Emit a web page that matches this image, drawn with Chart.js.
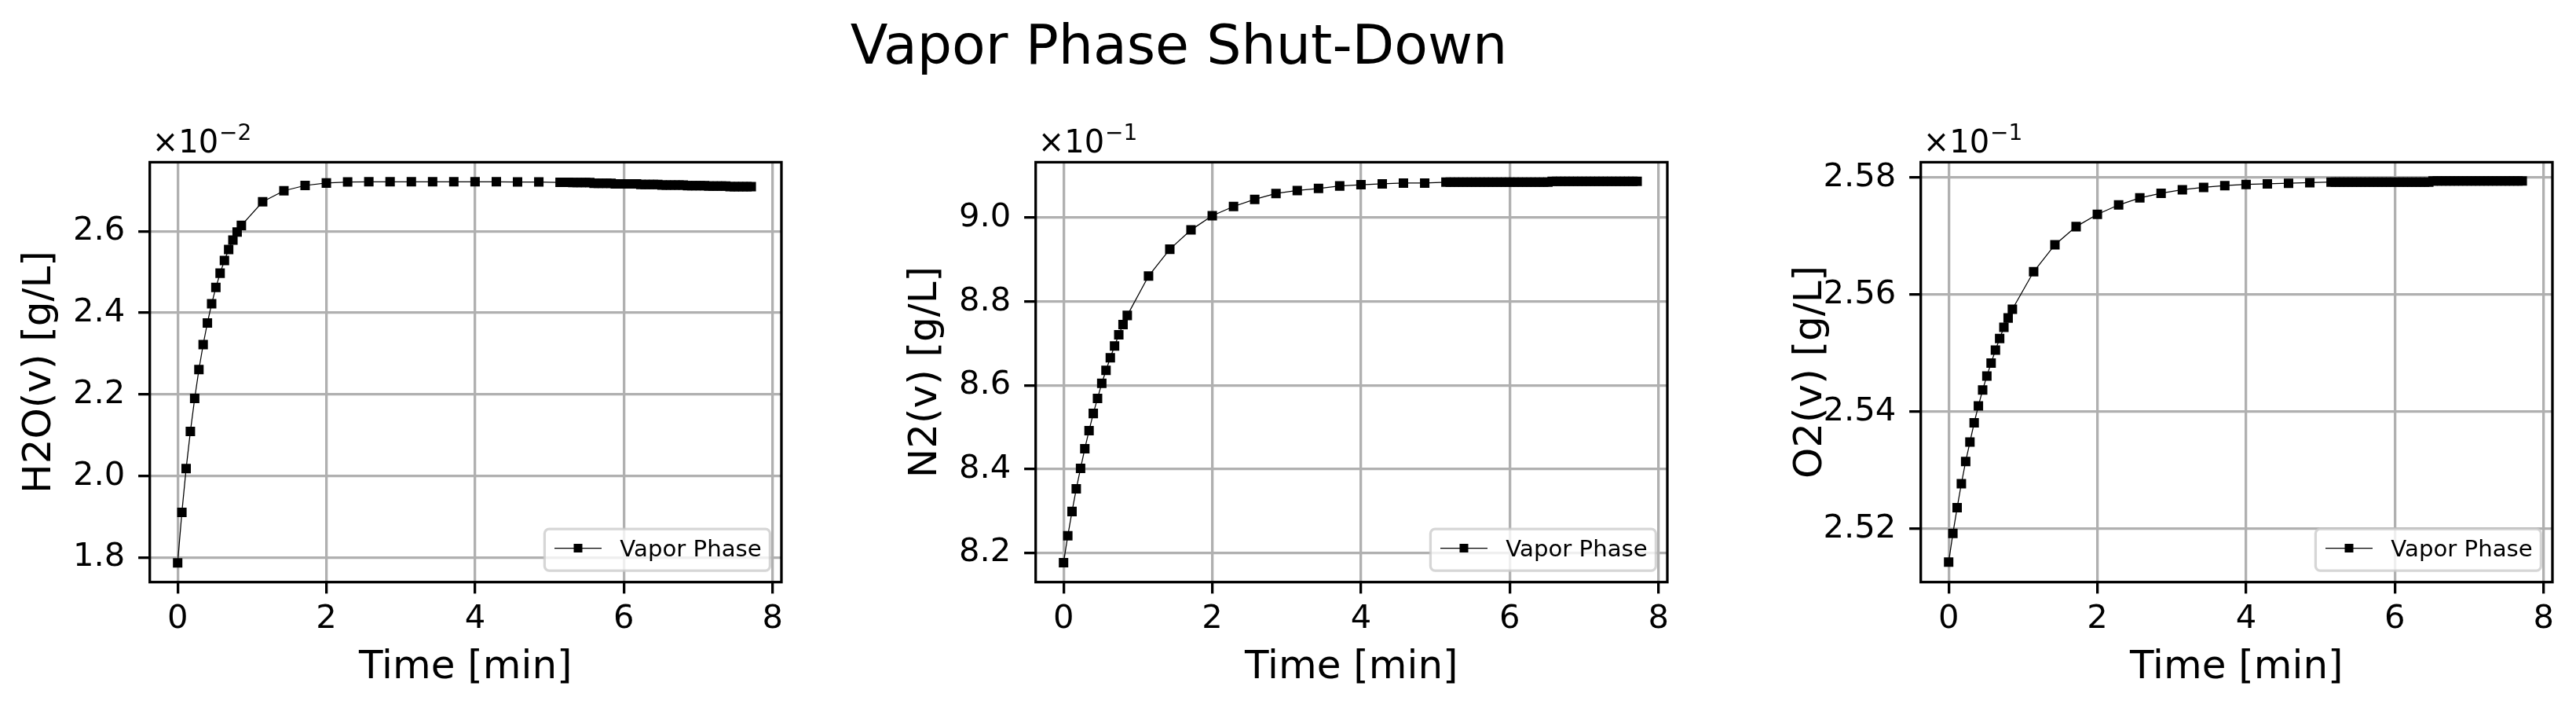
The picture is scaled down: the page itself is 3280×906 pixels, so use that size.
<!DOCTYPE html>
<html>
<head>
<meta charset="utf-8">
<script src="https://cdn.jsdelivr.net/npm/chart.js@4.4.1/dist/chart.umd.min.js"></script>
<style>
  html, body { margin: 0; padding: 0; background: #fff; overflow: hidden; }
  body { width: 3280px; height: 906px; position: relative; }
  #title { position: absolute; left: 0; width: 3002px; top: 22px; text-align: center;
           font: 69.8px/1 'DejaVu Sans'; color: #000; white-space: nowrap; }
  canvas { position: absolute; top: 0; }
</style>
</head>
<body>
<div id="title">Vapor Phase Shut-Down</div>
<canvas id="c0" width="1030" height="906" style="left:0px"></canvas>
<canvas id="c1" width="1030" height="906" style="left:1127.5px"></canvas>
<canvas id="c2" width="1030" height="906" style="left:2255px"></canvas>
<script>
// time axis [min], shared by the three panels
const times = [
  0, 0.057, 0.114, 0.171, 0.229, 0.286, 0.343, 0.400, 0.457, 0.514, 0.571, 0.629, 0.686, 0.743, 0.800, 0.857,
  1.143, 1.429, 1.714, 2.000, 2.286, 2.571, 2.857, 3.143, 3.429, 3.714, 4.000, 4.286, 4.571, 4.857,
  5.143, 5.200, 5.257, 5.314, 5.371, 5.429, 5.486, 5.543, 5.600, 5.657, 5.714, 5.771, 5.829,
  5.886, 5.943, 6.000, 6.057, 6.114, 6.171, 6.229, 6.286, 6.343, 6.400, 6.457, 6.514,
  6.571, 6.629, 6.686, 6.743, 6.800, 6.857, 6.914, 6.971, 7.029, 7.086, 7.143, 7.200,
  7.257, 7.314, 7.371, 7.429, 7.486, 7.543, 7.600, 7.657, 7.714
];

// values as read on each axis (H2O in 1e-2 g/L, N2 and O2 in 1e-1 g/L)
const h2oValues = [
  1.787, 1.911, 2.018, 2.109, 2.190, 2.261, 2.322, 2.375, 2.422, 2.462, 2.497, 2.528, 2.555, 2.578, 2.598, 2.614,
  2.672, 2.699, 2.712, 2.718, 2.7205, 2.721, 2.721, 2.721, 2.721, 2.721, 2.721, 2.721, 2.7205, 2.7205,
  2.7195, 2.7195, 2.7195, 2.719, 2.719, 2.719, 2.719, 2.719,
  2.7175, 2.7175, 2.7175, 2.7175, 2.7175,
  2.716, 2.716, 2.716, 2.716, 2.716, 2.716,
  2.7145, 2.7145, 2.7145, 2.7145, 2.7145,
  2.713, 2.713, 2.713, 2.713, 2.713, 2.713,
  2.7115, 2.7115, 2.7115, 2.7115, 2.7115,
  2.7105, 2.7105, 2.7105, 2.7105, 2.7105,
  2.709, 2.709, 2.709, 2.709, 2.709, 2.709
];
const n2Values = [
  8.177, 8.241, 8.299, 8.353, 8.402, 8.449, 8.492, 8.533, 8.569, 8.605, 8.636, 8.666, 8.694, 8.721, 8.745, 8.767,
  8.861, 8.925, 8.971, 9.005, 9.027, 9.044, 9.058, 9.065, 9.070, 9.076, 9.079, 9.081, 9.083, 9.083,
  9.085, 9.085, 9.085, 9.085, 9.085, 9.085, 9.085, 9.085, 9.085, 9.085, 9.085, 9.085, 9.085,
  9.085, 9.085, 9.085, 9.085, 9.085, 9.085, 9.085, 9.085, 9.085, 9.085, 9.085, 9.085,
  9.087, 9.087, 9.087, 9.087, 9.087, 9.087, 9.087, 9.087, 9.087, 9.087, 9.087, 9.087,
  9.087, 9.087, 9.087, 9.087, 9.087, 9.087, 9.087, 9.087, 9.087
];
const o2Values = [
  2.5143, 2.5192, 2.5236, 2.5277, 2.5315, 2.5348, 2.5381, 2.5410, 2.5437, 2.5461, 2.5483, 2.5505, 2.5525, 2.5544, 2.5560, 2.5575,
  2.5639, 2.5685, 2.5716, 2.5737, 2.5753, 2.5765, 2.5773, 2.5779, 2.5783, 2.5786, 2.5788, 2.5789, 2.5790, 2.5791,
  2.5792, 2.5792, 2.5792, 2.5792, 2.5792, 2.5792, 2.5792, 2.5792, 2.5792, 2.5792, 2.5792, 2.5792, 2.5792,
  2.5792, 2.5792, 2.5792, 2.5792, 2.5792, 2.5792, 2.5792, 2.5792, 2.5792, 2.5792, 2.5792, 2.5794,
  2.5794, 2.5794, 2.5794, 2.5794, 2.5794, 2.5794, 2.5794, 2.5794, 2.5794, 2.5794, 2.5794, 2.5794,
  2.5794, 2.5794, 2.5794, 2.5794, 2.5794, 2.5794, 2.5794, 2.5794, 2.5794
];

const seriesLabel = 'Vapor Phase';
const xTitle = 'Time [min]';
const xTicks = [0, 2, 4, 6, 8];
const h2oTicks = [1.8, 2.0, 2.2, 2.4, 2.6];
const n2Ticks = [8.2, 8.4, 8.6, 8.8, 9.0];
const o2Ticks = [2.52, 2.54, 2.56, 2.58];

const panels = [
  { id: 'c0', values: h2oValues, ticks: h2oTicks, decimals: 1, yTitle: 'H2O(v) [g/L]', exponent: '\u22122', yMin: 1.740, yMax: 2.769 },
  { id: 'c1', values: n2Values, ticks: n2Ticks, decimals: 1, yTitle: 'N2(v) [g/L]', exponent: '\u22121', yMin: 8.1305, yMax: 9.1327 },
  { id: 'c2', values: o2Values, ticks: o2Ticks, decimals: 2, yTitle: 'O2(v) [g/L]', exponent: '\u22121', yMin: 2.5109, yMax: 2.5826 }
];

const FONT = 'DejaVu Sans';

// frame, offset text and legend box drawn the matplotlib way
const decor = {
  id: 'decor',
  afterDatasetsDraw(chart) {
    const { ctx, chartArea: a } = chart;
    ctx.save();
    ctx.strokeStyle = '#000';
    ctx.lineWidth = 3.3;
    ctx.strokeRect(a.left, a.top, a.right - a.left, a.bottom - a.top);
    ctx.restore();
  },
  afterDraw(chart, args, opts) {
    const { ctx, chartArea: a } = chart;
    ctx.save();
    ctx.fillStyle = '#000';
    ctx.textBaseline = 'alphabetic';
    ctx.textAlign = 'left';

    // offset text
    const x0 = a.left + 3, base = a.top - 12;
    ctx.font = '40px "' + FONT + '"';
    ctx.fillText('\u00d710', x0, base);
    const w = ctx.measureText('\u00d710').width;
    ctx.font = '28px "' + FONT + '"';
    ctx.fillText(opts.exponent, x0 + w + 1, base - 16);

    // legend
    const bw = 287, bh = 53;
    const bx = a.right - 14.6 - bw, by = a.bottom - 14.6 - bh;
    ctx.beginPath();
    ctx.roundRect(bx, by, bw, bh, 5.8);
    ctx.fillStyle = 'rgba(255,255,255,0.8)';
    ctx.fill();
    ctx.strokeStyle = 'rgba(204,204,204,0.8)';
    ctx.lineWidth = 3.3;
    ctx.stroke();
    const ly = by + 24.4;
    ctx.beginPath();
    ctx.moveTo(bx + 12.6, ly);
    ctx.lineTo(bx + 72.6, ly);
    ctx.strokeStyle = '#000';
    ctx.lineWidth = 1.25;
    ctx.stroke();
    ctx.fillStyle = '#000';
    ctx.fillRect(bx + 42.6 - 5.5, ly - 5.5, 11, 11);
    ctx.font = '29.2px "' + FONT + '"';
    ctx.fillText(chart.data.datasets[0].label, bx + 95.9, by + 35);
    ctx.restore();
  }
};

const gridStyle = { color: '#b0b0b0', lineWidth: 3.3, tickColor: '#000', tickWidth: 3.3, tickLength: 14.6 };

panels.forEach(p => {
  new Chart(document.getElementById(p.id), {
    type: 'line',
    data: {
      datasets: [{
        label: seriesLabel,
        data: times.map((t, i) => ({ x: t, y: p.values[i] })),
        borderColor: '#000',
        borderWidth: 1.25,
        tension: 0,
        pointStyle: 'rect',
        pointRadius: 8.5,
        pointBackgroundColor: '#000',
        pointBorderWidth: 0
      }]
    },
    options: {
      responsive: false,
      devicePixelRatio: 1,
      animation: false,
      events: [],
      layout: { padding: { top: 206.4, right: 35, bottom: 0, left: 0 } },
      plugins: {
        legend: { display: false },
        tooltip: { enabled: false },
        decor: { exponent: p.exponent }
      },
      scales: {
        x: {
          type: 'linear',
          min: -0.375,
          max: 8.12,
          afterBuildTicks: s => { s.ticks = xTicks.map(v => ({ value: v })); },
          afterFit: s => { s.height = 165.3; },
          grid: gridStyle,
          border: { display: false },
          ticks: { color: '#000', font: { family: FONT, size: 41.7, lineHeight: 1.2 }, padding: 8, maxRotation: 0,
                   callback: v => String(v) },
          title: { display: true, text: xTitle, color: '#000', font: { family: FONT, size: 50, lineHeight: 1.2 },
                   padding: { top: 0, bottom: 26 } }
        },
        y: {
          type: 'linear',
          min: p.yMin,
          max: p.yMax,
          afterBuildTicks: s => { s.ticks = p.ticks.map(v => ({ value: v })); },
          afterFit: s => { s.width = 190.7; },
          grid: gridStyle,
          border: { display: false },
          ticks: { color: '#000', font: { family: FONT, size: 41.7, lineHeight: 1.2 }, padding: 16.8,
                   callback: v => v.toFixed(p.decimals) },
          title: { display: true, text: p.yTitle, color: '#000', font: { family: FONT, size: 50, lineHeight: 1.2 },
                   padding: { top: 21, bottom: 0 } }
        }
      }
    },
    plugins: [decor]
  });
});
</script>
</body>
</html>
